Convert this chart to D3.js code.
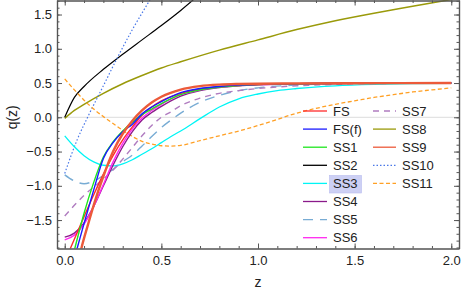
<!DOCTYPE html>
<html>
<head>
<meta charset="utf-8">
<script src="https://cdn.jsdelivr.net/npm/d3@7"></script>
<style>
  body { margin: 0; background: #fff; }
  svg { display: block; font-family: "Liberation Sans", Arial, sans-serif; }
</style>
</head>
<body>
<script>
// z grid values and q(z) values
const zFS   = [0, 0.029, 0.1, 0.15, 0.2, 0.25, 0.3, 0.35, 0.4, 0.45, 0.5, 0.6, 0.7, 0.8, 0.9, 1.0, 1.2, 1.5, 2.0];
const qFS   = [-2.1, -1.915, -1.45, -1.13, -0.83, -0.56, -0.33, -0.14, 0.03, 0.15, 0.24, 0.35, 0.41, 0.445, 0.465, 0.478, 0.49, 0.497, 0.5];

const zFSf  = [0, 0.064, 0.1, 0.15, 0.2, 0.25, 0.3, 0.35, 0.4, 0.45, 0.5, 0.6, 0.7, 0.8, 0.9, 1.0, 1.2, 1.5, 2.0];
const qFSf  = [-2.55, -1.915, -1.55, -1.06, -0.6, -0.37, -0.21, -0.1, 0.05, 0.15, 0.23, 0.36, 0.42, 0.45, 0.47, 0.48, 0.492, 0.498, 0.5];

const zSS1  = [0, 0.052, 0.1, 0.15, 0.2, 0.25, 0.3, 0.35, 0.4, 0.45, 0.5, 0.6, 0.7, 0.8, 0.9, 1.0, 1.2, 1.5, 2.0];
const qSS1  = [-2.5, -1.915, -1.4, -0.95, -0.58, -0.36, -0.2, -0.07, 0.04, 0.12, 0.2, 0.33, 0.4, 0.44, 0.465, 0.478, 0.49, 0.497, 0.5];

const zSS2  = [0, 0.05, 0.1, 0.2, 0.3, 0.4, 0.5, 0.6, 0.7];
const qSS2  = [0, 0.29, 0.45, 0.7, 0.92, 1.13, 1.34, 1.56, 1.8];

const zSS3  = [0, 0.05, 0.1, 0.15, 0.2, 0.25, 0.3, 0.35, 0.4, 0.45, 0.5, 0.55, 0.6, 0.7, 0.8, 0.9, 1.0, 1.1, 1.2, 1.4, 1.6, 1.8, 2.0];
const qSS3  = [-0.27, -0.43, -0.56, -0.65, -0.7, -0.71, -0.68, -0.62, -0.54, -0.46, -0.37, -0.28, -0.2, -0.02, 0.15, 0.27, 0.34, 0.39, 0.42, 0.46, 0.48, 0.49, 0.495];

const zSS4  = [0, 0.05, 0.1, 0.15, 0.2, 0.25, 0.3, 0.35, 0.4, 0.45, 0.5, 0.6, 0.7, 0.8, 0.9, 1.0, 1.2, 1.5, 2.0];
const qSS4  = [-1.75, -1.69, -1.54, -1.3, -1.0, -0.7, -0.43, -0.21, -0.04, 0.07, 0.16, 0.31, 0.39, 0.435, 0.46, 0.475, 0.49, 0.497, 0.5];

const zSS5  = [0, 0.05, 0.1, 0.15, 0.2, 0.25, 0.3, 0.35, 0.4, 0.45, 0.5, 0.55, 0.6, 0.7, 0.8, 0.9, 1.0, 1.2, 1.4, 1.7, 2.0];
const qSS5  = [-0.84, -0.93, -0.97, -0.93, -0.85, -0.76, -0.65, -0.55, -0.42, -0.28, -0.15, -0.04, 0.06, 0.22, 0.32, 0.39, 0.43, 0.47, 0.49, 0.5, 0.5];

const zSS6  = [0, 0.05, 0.1, 0.15, 0.2, 0.25, 0.3, 0.35, 0.4, 0.45, 0.5, 0.6, 0.7, 0.8, 0.9, 1.0, 1.2, 1.5, 2.0];
const qSS6  = [-1.79, -1.72, -1.56, -1.3, -0.98, -0.65, -0.38, -0.17, -0.01, 0.1, 0.19, 0.33, 0.4, 0.44, 0.465, 0.477, 0.49, 0.497, 0.5];

const zSS7  = [0, 0.1, 0.2, 0.25, 0.3, 0.35, 0.4, 0.45, 0.5, 0.55, 0.6, 0.65, 0.7, 0.8, 0.9, 1.0, 1.2, 1.4, 1.7, 2.0];
const qSS7  = [-1.44, -1.14, -0.9, -0.77, -0.61, -0.44, -0.27, -0.12, 0.0, 0.08, 0.17, 0.23, 0.28, 0.35, 0.39, 0.42, 0.46, 0.48, 0.495, 0.5];

const zSS8  = [0, 0.05, 0.1, 0.2, 0.3, 0.4, 0.5, 0.6, 0.8, 1.0, 1.2, 1.4, 1.6, 1.8, 2.0];
const qSS8  = [-0.015, 0.1, 0.19, 0.35, 0.49, 0.61, 0.72, 0.81, 0.98, 1.13, 1.28, 1.41, 1.52, 1.62, 1.72];

const zSS9  = [0, 0.05, 0.086, 0.12, 0.16, 0.2, 0.25, 0.3, 0.35, 0.4, 0.45, 0.5, 0.6, 0.7, 0.8, 0.9, 1.0, 1.2, 1.5, 2.0];
const qSS9  = [-2.9, -2.4, -1.915, -1.57, -1.19, -0.86, -0.5, -0.24, -0.05, 0.1, 0.215, 0.3, 0.405, 0.455, 0.477, 0.486, 0.49, 0.495, 0.498, 0.5];

const zSS10 = [0, 0.064, 0.12, 0.2, 0.267, 0.35, 0.44, 0.5];
const qSS10 = [-0.82, -0.33, 0.01, 0.46, 0.84, 1.28, 1.71, 2.0];

const zSS11 = [0, 0.05, 0.1, 0.15, 0.2, 0.25, 0.3, 0.35, 0.4, 0.45, 0.5, 0.55, 0.6, 0.7, 0.8, 0.9, 1.0, 1.1, 1.2, 1.3, 1.4, 1.5, 1.6, 1.7, 1.8, 1.9, 2.0];
const qSS11 = [0.56, 0.4, 0.25, 0.12, 0.01, -0.09, -0.19, -0.28, -0.35, -0.39, -0.415, -0.42, -0.41, -0.34, -0.27, -0.2, -0.12, -0.03, 0.06, 0.13, 0.19, 0.24, 0.29, 0.33, 0.37, 0.4, 0.43];

const xTicks = [0, 0.5, 1.0, 1.5, 2.0];
const yTicks = [-1.5, -1.0, -0.5, 0.0, 0.5, 1.0, 1.5];

const width = 463, height = 292;
const margin = { left: 57, right: 4, top: 0, bottom: 43.5 };

const series = [
  { name: "FS",    z: zFS,   q: qFS,   color: "#ff2a2a", w: 1.4, dash: null },
  { name: "FS(f)", z: zFSf,  q: qFSf,  color: "#1a1aff", w: 1.4, dash: null },
  { name: "SS1",   z: zSS1,  q: qSS1,  color: "#1ee61e", w: 1.4, dash: null },
  { name: "SS2",   z: zSS2,  q: qSS2,  color: "#000000", w: 1.2, dash: null },
  { name: "SS3",   z: zSS3,  q: qSS3,  color: "#00f5f5", w: 1.3, dash: null },
  { name: "SS4",   z: zSS4,  q: qSS4,  color: "#8a1a8a", w: 1.4, dash: null },
  { name: "SS5",   z: zSS5,  q: qSS5,  color: "#78acd4", w: 1.4, dash: "10,7" },
  { name: "SS6",   z: zSS6,  q: qSS6,  color: "#ff2af0", w: 1.4, dash: null },
  { name: "SS7",   z: zSS7,  q: qSS7,  color: "#b07cc0", w: 1.4, dash: "6,5" },
  { name: "SS8",   z: zSS8,  q: qSS8,  color: "#9a9a0a", w: 1.5, dash: null },
  { name: "SS9",   z: zSS9,  q: qSS9,  color: "#ec5a3a", w: 2.4, dash: null },
  { name: "SS10",  z: zSS10, q: qSS10, color: "#4a78e8", w: 1.2, dash: "1.5,2" },
  { name: "SS11",  z: zSS11, q: qSS11, color: "#ffa025", w: 1.3, dash: "4,2.5" }
];

const svg = d3.select('body').append('svg')
  .attr('width', width)
  .attr('height', height);

// scales
const x = d3.scaleLinear().domain([-0.04, 2.04]).range([margin.left, width - margin.right]);
const y = d3.scaleLinear().domain([-1.915, 1.712]).range([height - margin.bottom, margin.top]);

svg.append("clipPath").attr("id", "clip")
  .append("rect")
  .attr("x", margin.left).attr("y", margin.top)
  .attr("width", width - margin.left - margin.right)
  .attr("height", height - margin.top - margin.bottom);

// zero grid line
svg.append("line")
  .attr("x1", margin.left).attr("x2", width - margin.right)
  .attr("y1", y(0)).attr("y2", y(0))
  .attr("stroke", "#dcdcdc").attr("stroke-width", 1);

// curves
const line = d3.line()
  .x(d => x(d[0]))
  .y(d => y(d[1]))
  .curve(d3.curveMonotoneX);

const drawOrder = ["SS8", "SS2", "SS10", "SS11", "SS3", "SS5", "SS7", "SS4", "SS6", "FS", "SS1", "FS(f)", "SS9"];
const g = svg.append("g").attr("clip-path", "url(#clip)");
drawOrder.forEach(n => {
  const s = series.find(d => d.name === n);
  g.append("path")
    .datum(s.z.map((z, i) => [z, s.q[i]]))
    .attr("fill", "none")
    .attr("stroke", s.color)
    .attr("stroke-width", s.w)
    .attr("stroke-dasharray", s.dash)
    .attr("d", line);
});

// frame + ticks
const frameColor = "#555";
const minorX = d3.range(-0.0, 2.01, 0.1);
const minorY = d3.range(-1.9, 1.71, 0.1);

svg.append("g").attr("transform", `translate(0,${height - margin.bottom})`)
  .call(d3.axisBottom(x).tickValues(xTicks).tickFormat(d3.format(".1f")).tickSizeInner(-5).tickSizeOuter(0).tickPadding(7));
svg.append("g").attr("transform", `translate(0,${margin.top + 0.5})`)
  .call(d3.axisTop(x).tickValues(xTicks).tickFormat("").tickSizeInner(-5).tickSizeOuter(0));
svg.append("g").attr("transform", `translate(${margin.left},0)`)
  .call(d3.axisLeft(y).tickValues(yTicks).tickFormat(d3.format(".1f")).tickSizeInner(-5).tickSizeOuter(0).tickPadding(5));
svg.append("g").attr("transform", `translate(${width - margin.right},0)`)
  .call(d3.axisRight(y).tickValues(yTicks).tickFormat("").tickSizeInner(-5).tickSizeOuter(0));

// minor ticks
svg.append("g").attr("transform", `translate(0,${height - margin.bottom})`)
  .call(d3.axisBottom(x).tickValues(minorX).tickFormat("").tickSizeInner(-2.5).tickSizeOuter(0));
svg.append("g").attr("transform", `translate(0,${margin.top + 0.5})`)
  .call(d3.axisTop(x).tickValues(minorX).tickFormat("").tickSizeInner(-2.5).tickSizeOuter(0));
svg.append("g").attr("transform", `translate(${margin.left},0)`)
  .call(d3.axisLeft(y).tickValues(minorY).tickFormat("").tickSizeInner(-2.5).tickSizeOuter(0));
svg.append("g").attr("transform", `translate(${width - margin.right},0)`)
  .call(d3.axisRight(y).tickValues(minorY).tickFormat("").tickSizeInner(-2.5).tickSizeOuter(0));

svg.selectAll(".domain, .tick line").attr("stroke", frameColor);
svg.selectAll(".domain").attr("stroke-width", 1.2);
svg.selectAll(".tick text").attr("fill", "#222").style("font-size", "13px").style("font-family", "Liberation Sans, Arial, sans-serif");

// axis labels
svg.append("text")
  .attr("x", x(1.0)).attr("y", 287)
  .attr("text-anchor", "middle")
  .style("font-size", "14px").attr("fill", "#222")
  .text("z");
svg.append("text")
  .attr("transform", `translate(17,${y(0)}) rotate(-90)`)
  .attr("text-anchor", "middle")
  .style("font-size", "14px").attr("fill", "#222")
  .text("q(z)");

// legend
const col1 = ["FS", "FS(f)", "SS1", "SS2", "SS3", "SS4", "SS5", "SS6"];
const col2 = ["SS7", "SS8", "SS9", "SS10", "SS11"];
const legend = svg.append("g");

// highlight box behind SS3
legend.append("rect")
  .attr("x", 329.5).attr("y", 175.5)
  .attr("width", 32).attr("height", 17.5)
  .attr("fill", "#cdd0f4").attr("stroke", "#b8bcee").attr("stroke-width", 0.6);

function drawCol(names, x0, lx0, lx1) {
  names.forEach((n, i) => {
    const s = series.find(d => d.name === n);
    const yy = 111 + i * 18.1;
    legend.append("line")
      .attr("x1", lx0).attr("x2", lx1).attr("y1", yy).attr("y2", yy)
      .attr("stroke", s.color).attr("stroke-width", 1.3)
      .attr("stroke-dasharray", s.dash);
    legend.append("text")
      .attr("x", x0).attr("y", yy + 4.5)
      .style("font-size", "13px").attr("fill", "#222")
      .text(n);
  });
}
drawCol(col1, 333, 303, 327);
drawCol(col2, 402, 373, 396);
</script>
</body>
</html>
